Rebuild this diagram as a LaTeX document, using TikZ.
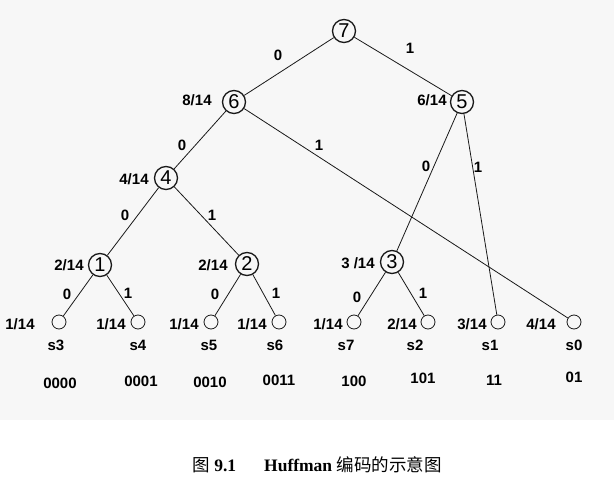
\documentclass[tikz,border=0pt]{standalone}
\usepackage{fontspec}
\setmainfont{Liberation Serif}
\setsansfont{Liberation Sans}
\newfontfamily\cjk{Noto Sans CJK SC}
\usetikzlibrary{calc}
\definecolor{PaperGray}{RGB}{247,247,247}
\definecolor{InkGray}{RGB}{25,25,25}

\begin{document}
\begin{tikzpicture}[x=1pt,y=-1pt,
  inner/.style={draw=InkGray,circle,line width=1.3pt,minimum size=23pt,inner sep=0pt,
    font=\sffamily\fontsize{20}{20}\selectfont},
  leaf/.style={draw=InkGray,circle,line width=0.8pt,minimum size=14pt,inner sep=0pt},
  lbl/.style={inner sep=0pt,font=\sffamily\bfseries\fontsize{15}{15}\selectfont},
  edge/.style={line width=0.8pt,InkGray}]
\fill[PaperGray] (0,0) rectangle (614,420);
\useasboundingbox (0,0) rectangle (614,479);
\node[inner] (n7) at (344,31) {7};
\node[inner] (n6) at (234,102) {6};
\node[inner] (n5) at (462,102) {5};
\node[inner] (n4) at (166,178) {4};
\node[inner] (n1) at (100,265) {1};
\node[inner] (n2) at (247,264) {2};
\node[inner] (n3) at (392,262) {3};
\node[lbl] (p6) at (197,100) {8/14};
\node[lbl] (p5) at (432,100) {6/14};
\node[lbl] (p4) at (134,179) {4/14};
\node[lbl] (p1) at (69,265) {2/14};
\node[lbl] (p2) at (213,265) {2/14};
\node[lbl] (p3) at (358,263) {3 /14};
\foreach \s/\x/\w/\wx/\nx/\c/\cx/\cy in {3/59/1/20/56/0000/60/383,4/138/1/111/138/0001/141/381,
    5/211/1/184/209/0010/210/382,6/279/1/252/275/0011/279/380,7/354/1/328/346/100/354/381,
    2/428/2/402/415/101/423/378,1/498/3/472/490/11/494/380,0/574/4/541/574/01/574/377}{
  \node[leaf] (s\s) at (\x,322) {};
  \node[lbl] (w\s) at (\wx,324) {\w/14};
  \node[lbl] (t\s) at (\nx,345) {s\s};
  \node[lbl] (c\s) at (\cx,\cy) {\c};
}
\foreach \a/\b in {n7/n6,n7/n5,n6/n4,n6/s0,n5/n3,n5/s1,n4/n1,n4/n2,
    n1/s3,n1/s4,n2/s5,n2/s6,n3/s7,n3/s2}
  \draw[edge] (\a)--(\b);
\foreach \x/\y/\b [count=\i] in {278/55/0,410/48/1,182/145/0,319/145/1,426/166/0,478/167/1,
    125/215/0,212/215/1,67/294/0,128/293/1,215/294/0,276/293/1,357/297/0,423/293/1}
  \node[lbl] (b\i) at (\x,\y) {\b};
\node (cap) at (317,465) {\fontsize{17.5}{17.5}\selectfont{\cjk 图} \textbf{9.1}\hspace{28pt}\textbf{Huffman} {\cjk 编码的示意图}};
\end{tikzpicture}
\end{document}
